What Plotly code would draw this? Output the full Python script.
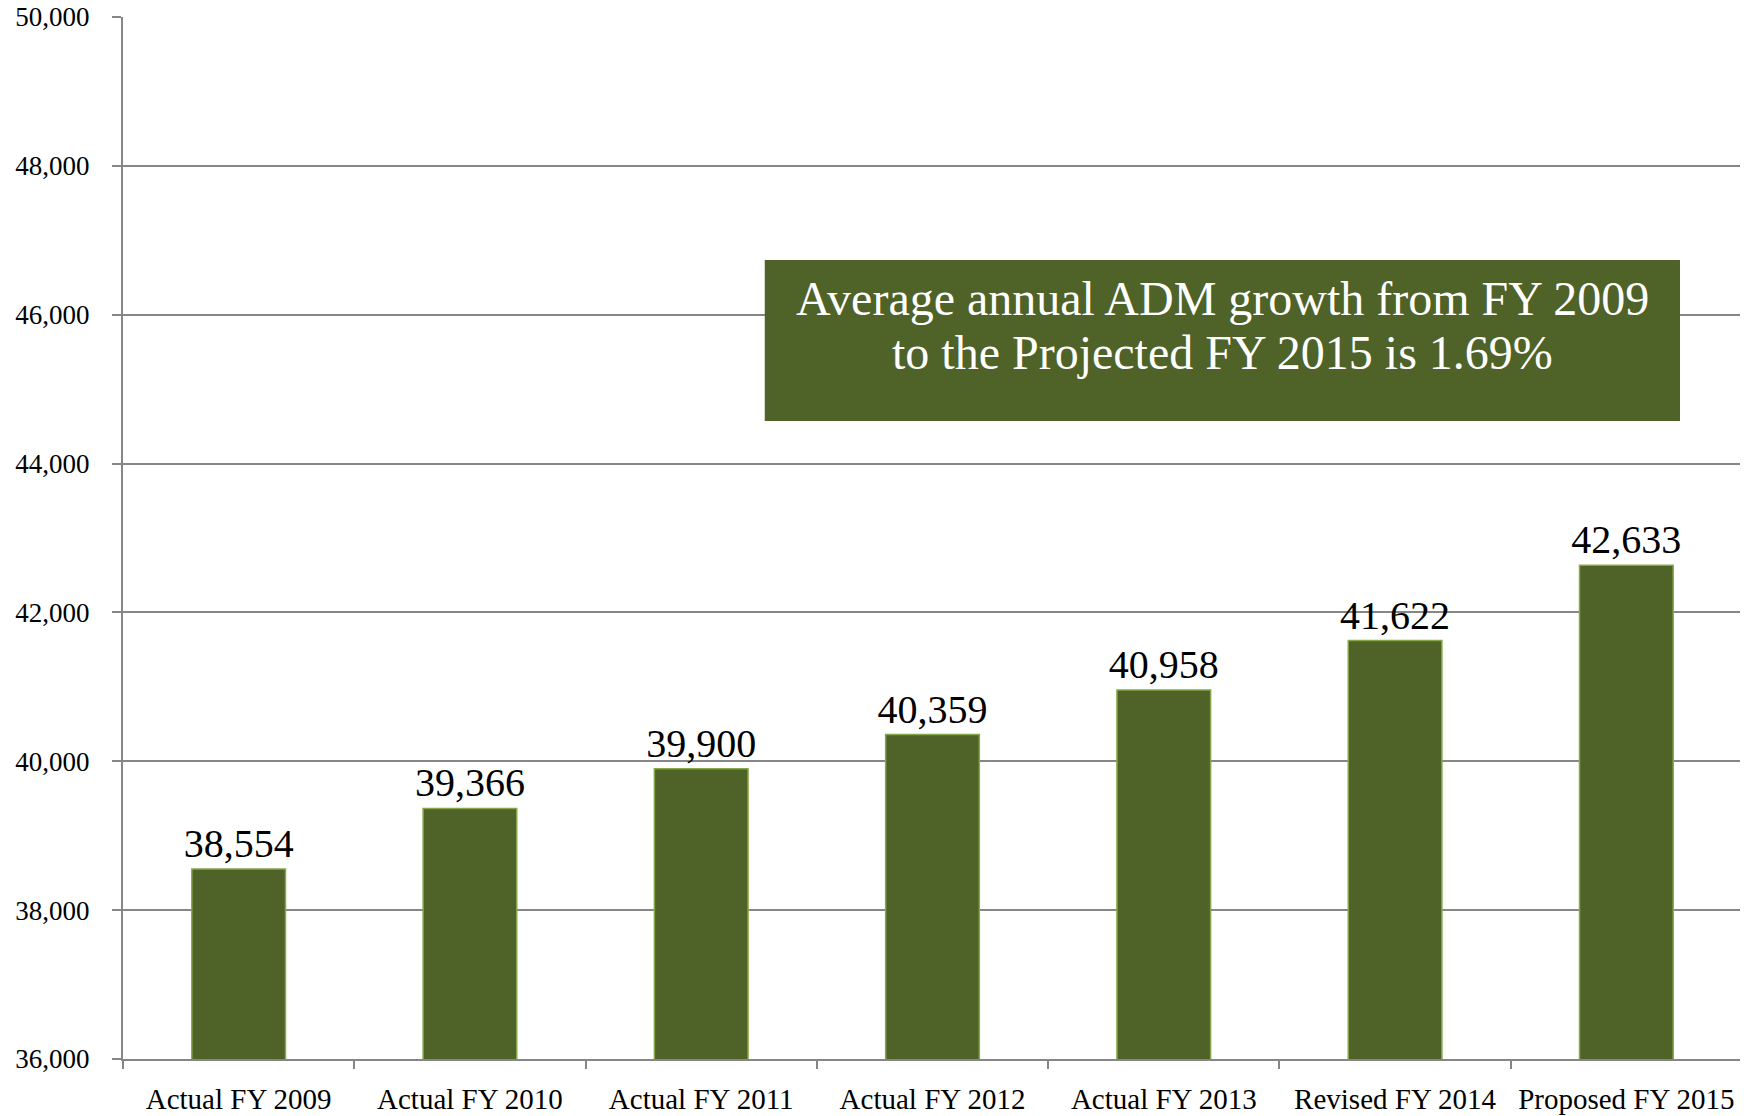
import plotly.graph_objects as go

# ADM by fiscal year
categories = [
    "Actual FY 2009", "Actual FY 2010", "Actual FY 2011", "Actual FY 2012",
    "Actual FY 2013", "Revised FY 2014", "Proposed FY 2015",
]
adm = [38554, 39366, 39900, 40359, 40958, 41622, 42633]
note_lines = [
    "Average annual ADM growth from FY 2009",
    "to the Projected FY 2015 is 1.69%",
]

OLIVE = "#4F6228"
GRID = "#868686"
FONT = "Liberation Serif, Times New Roman, serif"

fig = go.Figure()
fig.add_trace(
    go.Bar(
        x=categories, y=adm,
        marker=dict(color=OLIVE, line=dict(color="#86A84A", width=1.5)),
        text=[f"{v:,}" for v in adm],
        textposition="outside",
        constraintext="none",
        textfont=dict(family=FONT, size=40, color="black"),
        cliponaxis=False,
        hoverinfo="skip",
    )
)

# green call-out box, drawn over the gridlines
fig.add_shape(
    type="rect", xref="paper", yref="paper",
    x0=0.3964, x1=0.9617, y0=0.6123, y1=0.7668,
    fillcolor=OLIVE, line=dict(width=0), layer="above",
)
for line, ypos in zip(note_lines, [0.7294, 0.6776]):
    fig.add_annotation(
        xref="paper", yref="paper", x=0.679, y=ypos,
        xanchor="center", yanchor="middle",
        text=line, showarrow=False,
        font=dict(family=FONT, size=48, color="white"),
    )

# page body adds an 8px offset, margins compensate for it
fig.update_layout(
    width=1740, height=1108,
    paper_bgcolor="white", plot_bgcolor="white",
    margin=dict(l=115, r=6, t=9, b=57),
    bargap=0.595,
    showlegend=False,
    font=dict(family=FONT, color="black"),
)
fig.update_yaxes(
    range=[36000, 50000], dtick=2000, tickformat=",",
    showgrid=True, gridcolor=GRID, gridwidth=1.5,
    showline=True, linecolor=GRID, linewidth=2,
    ticks="outside", ticklen=9, tickcolor=GRID, tickwidth=1.5,
    ticklabelstandoff=17, ticklabeloverflow="allow",
    tickfont=dict(family=FONT, size=27, color="black"),
    zeroline=False, automargin=False,
)
fig.update_xaxes(
    showline=True, linecolor=GRID, linewidth=2,
    ticks="outside", ticklen=8, tickcolor=GRID, tickwidth=1.5,
    tickson="boundaries",
    ticklabelstandoff=13, ticklabeloverflow="allow",
    tickfont=dict(family=FONT, size=29, color="black"),
    automargin=False,
)

fig.write_html("out.html")
